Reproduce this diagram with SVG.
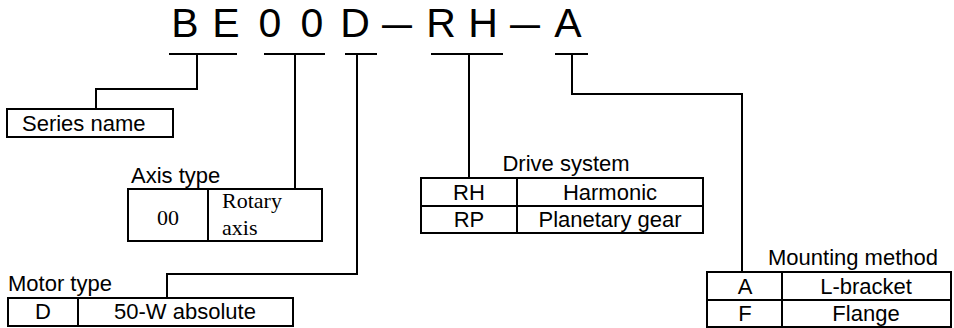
<svg xmlns="http://www.w3.org/2000/svg" width="954" height="328" viewBox="0 0 954 328">
<style>
.code{font-family:"Liberation Sans",Arial,sans-serif;font-size:41px;fill:#000;text-anchor:middle}
.t{font-family:"Liberation Sans",Arial,sans-serif;font-size:22px;fill:#000}
.c{text-anchor:middle}
.tm{font-family:"Liberation Serif","Times New Roman",serif;font-size:22px;fill:#000}
.box{fill:#fff;stroke:#000;stroke-width:2}
.ln{fill:none;stroke:#000;stroke-width:2}
</style>
<rect width="954" height="328" fill="#fff"/>
<g id="code">
<text class="code" x="185" y="37">B</text>
<text class="code" x="226" y="37">E</text>
<text class="code" x="270" y="37">0</text>
<text class="code" x="312" y="37">0</text>
<text class="code" x="355" y="37">D</text>
<text class="code" x="397" y="37" textLength="30" lengthAdjust="spacingAndGlyphs">—</text>
<text class="code" x="441" y="37">R</text>
<text class="code" x="483" y="37">H</text>
<text class="code" x="525" y="37" textLength="30" lengthAdjust="spacingAndGlyphs">—</text>
<text class="code" x="568" y="37">A</text>
</g>
<g id="connectors">
<path class="ln" d="M169 54H237M197 54V89H96V109"/>
<path class="ln" d="M264 54H325M295 54V189"/>
<path class="ln" d="M345 54H377M357 54V274H167V298"/>
<path class="ln" d="M431 54H503M469 54V178"/>
<path class="ln" d="M555 54H588M572 54V94H742V272"/>
</g>
<g id="series">
<rect class="box" x="7" y="109" width="166" height="28"/>
<text class="t" x="22" y="131">Series name</text>
</g>
<g id="axis">
<text class="t" x="131" y="183">Axis type</text>
<rect class="box" x="128" y="189" width="194" height="52"/>
<line class="ln" x1="208" y1="189" x2="208" y2="241"/>
<text class="tm c" x="168" y="225">00</text>
<text class="tm" x="222" y="208">Rotary</text>
<text class="tm" x="222" y="235">axis</text>
</g>
<g id="drive">
<text class="t c" x="566" y="171">Drive system</text>
<rect class="box" x="421" y="178" width="282" height="55"/>
<line class="ln" x1="421" y1="206" x2="703" y2="206"/>
<line class="ln" x1="517" y1="178" x2="517" y2="233"/>
<text class="t c" x="469" y="200">RH</text>
<text class="t c" x="610" y="200">Harmonic</text>
<text class="t c" x="469" y="227">RP</text>
<text class="t c" x="610" y="227">Planetary gear</text>
</g>
<g id="motor">
<text class="t" x="8" y="291">Motor type</text>
<rect class="box" x="8" y="298" width="285" height="28"/>
<line class="ln" x1="78" y1="298" x2="78" y2="326"/>
<text class="t c" x="43" y="319">D</text>
<text class="t c" x="185" y="319">50-W absolute</text>
</g>
<g id="mounting">
<text class="t" x="768" y="265">Mounting method</text>
<rect class="box" x="707" y="272" width="244" height="55"/>
<line class="ln" x1="707" y1="300" x2="951" y2="300"/>
<line class="ln" x1="782" y1="272" x2="782" y2="327"/>
<text class="t c" x="745" y="294">A</text>
<text class="t c" x="866" y="294">L-bracket</text>
<text class="t c" x="745" y="321">F</text>
<text class="t c" x="866" y="321">Flange</text>
</g>
</svg>
